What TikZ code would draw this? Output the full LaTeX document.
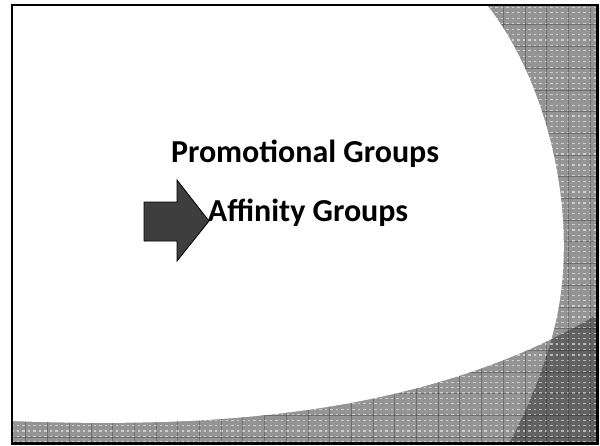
\documentclass[tikz,border=0pt]{standalone}
\usepackage{fontspec}
\setmainfont{Carlito}
\definecolor{basegray}{RGB}{148,148,148}
\definecolor{darkgray2}{RGB}{98,98,98}
\definecolor{arrowfill}{RGB}{62,62,62}
\newcommand\rpathA{(487,0) -- (487,5) .. controls (550,85) and (582,225) .. (553,333) .. controls (542,375) and (525,415) .. (508,445) -- (600,445) -- (600,0) -- cycle}
\newcommand\lpathA{(0,0) -- (487,0) -- (487,5) .. controls (550,85) and (582,225) .. (553,333) .. controls (542,375) and (525,415) .. (508,445) -- (0,445) -- cycle}
\newcommand\bpathA{(0,421) -- (10,421) .. controls (200,428) and (420,420) .. (600,313) -- (600,445) -- (0,445) -- cycle}
\newcommand\apathA{(0,0) -- (600,0) -- (600,313) .. controls (420,420) and (200,428) .. (10,421) -- (0,421) -- cycle}
\begin{document}
\begin{tikzpicture}[x=1pt,y=-1pt,
  dashline/.style={white, opacity=0.55, line width=1.2pt, dash pattern=on 2.5pt off 3pt},
  gridline/.style={black, opacity=0.25, line width=0.6pt},
  framebox/.style={draw=black, line width=2.5pt},
  arrowshape/.style={draw=black, fill=arrowfill, line width=0.8pt, line join=miter},
  lbl/.style={anchor=base, inner sep=0pt, font=\bfseries\fontsize{32}{38}\selectfont}]
\useasboundingbox (0,0) rectangle (600,445);
\begin{scope}
  \clip (12,5) rectangle (597.5,443.5);
  \fill[basegray] (0,0) rectangle (600,445);
  \begin{scope}
    \clip \rpathA;
    \fill[darkgray2] \bpathA;
  \end{scope}
  \foreach \i in {0,...,82} \draw[dashline] (0,{\i*5.43+2}) -- (600,{\i*5.43+2});
  \foreach \i in {0,...,27} \draw[gridline] ({\i*21.7+4},0) -- ({\i*21.7+4},445);
  \foreach \i in {0,...,20} \draw[gridline] (0,{\i*21.7+3}) -- (600,{\i*21.7+3});
  \begin{scope}
    \clip \lpathA;
    \fill[white] \apathA;
  \end{scope}
\end{scope}
\draw[framebox] (12,5) rectangle (597.5,443.5);
\draw[arrowshape] (144,202) -- (177,202) -- (177,180) -- (209,221) -- (177,261) -- (177,241) -- (144,241) -- cycle;
\node[lbl] (promo) at (305,162) {Promotional Groups};
\node[lbl] (aff) at (308,221) {Affinity Groups};
\end{tikzpicture}
\end{document}
